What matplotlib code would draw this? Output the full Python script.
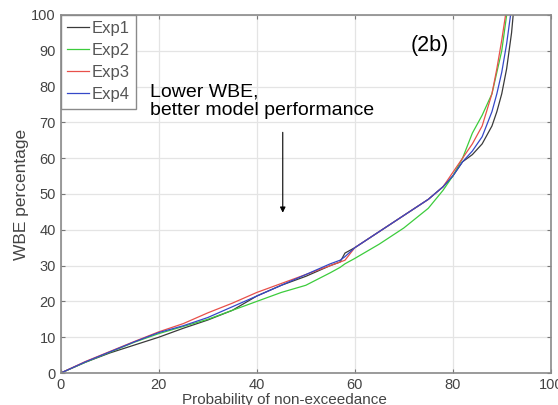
import matplotlib.pyplot as plt

plt.rcParams['font.family'] = ['Liberation Sans', 'DejaVu Sans']

# ---- data: WBE percentage vs probability of non-exceedance ----
prob = [0, 5, 10, 15, 20, 25, 30, 35, 40, 45, 50, 55, 57, 58, 60, 65, 70,
        75, 78, 80, 82, 84, 86, 88, 89, 90, 91, 92, 93]

exp1 = [0, 3, 5.6, 7.8, 10, 12.5, 14.8, 17.5, 21.5, 24.5, 27, 30, 31, 33.5,
        35, 39.5, 44, 48.5, 52, 55, 59, 61, 64, 69, 73, 78, 85, 95, 110]
exp2 = [0, 3, 5.8, 8.6, 11, 13, 15, 17.5, 20, 22.5, 24.5, 28, 29.5, 30.5,
        32, 36, 40.5, 46, 51, 55, 60, 67, 72, 78, 84, 90, 100, 112, 120]
exp3 = [0, 3.2, 6, 8.8, 11.5, 13.8, 16.8, 19.5, 22.5, 25, 27.5, 30, 31,
        31.5, 35, 39.5, 44, 48.5, 52, 56, 60, 64, 69, 78, 85, 93, 102, 115, 125]
exp4 = [0, 3.1, 5.9, 8.7, 11.3, 13.2, 15.5, 18.5, 21.5, 24.5, 27.5, 30.5,
        31.5, 32.5, 35, 39.5, 44, 48.5, 52, 55, 59, 62, 66, 73, 78, 84, 92,
        102, 115]

series = {
    "Exp1": (exp1, "#3a3a3a"),
    "Exp2": (exp2, "#3ccc3c"),
    "Exp3": (exp3, "#e8504a"),
    "Exp4": (exp4, "#3548c8"),
}

xticks = [0, 20, 40, 60, 80, 100]
yticks = [0, 10, 20, 30, 40, 50, 60, 70, 80, 90, 100]

fig = plt.figure(figsize=(5.58, 4.05), dpi=100)
ax = fig.add_axes([0.109, 0.079, 0.878, 0.884])

for name, (vals, col) in series.items():
    ax.plot(prob, vals, color=col, lw=0.9, label=name)

ax.set_xlim(0, 100)
ax.set_ylim(0, 100)
ax.set_xticks(xticks)
ax.set_yticks(yticks)
ax.grid(True, color="#e4e4e4", lw=0.9)
ax.set_axisbelow(True)
ax.tick_params(direction="in", top=True, right=True, length=3,
               labelsize=10.5, colors="#777777", labelcolor="#444444")
for sp in ax.spines.values():
    sp.set_color("#8a8a8a")
    sp.set_linewidth(1.2)

ax.set_xlabel("Probability of non-exceedance", fontsize=11, color="#444444")
ax.xaxis.set_label_coords(0.457, -0.056)
ax.set_ylabel("WBE percentage", fontsize=12.5, color="#444444", labelpad=2)

leg = ax.legend(loc="upper left", borderaxespad=0, fontsize=12,
                handlelength=1.3, handletextpad=0.15, labelspacing=0.42,
                borderpad=0.38, fancybox=False, framealpha=1)
leg.get_frame().set_edgecolor("#8a8a8a")
leg.get_frame().set_linewidth(1.0)
for t in leg.get_texts():
    t.set_color("#555555")

ax.text(71.5, 91.5, "(2b)", fontsize=15.5, va="center", ha="left")
ax.text(18.3, 75.8, "Lower WBE,\nbetter model performance", fontsize=14,
        va="center", ha="left", linespacing=1.1)
ax.annotate("", xy=(45.3, 44), xytext=(45.3, 68),
            arrowprops=dict(arrowstyle="-|>", color="black", lw=0.8,
                            mutation_scale=8))

fig.savefig("out.png", dpi=100)
